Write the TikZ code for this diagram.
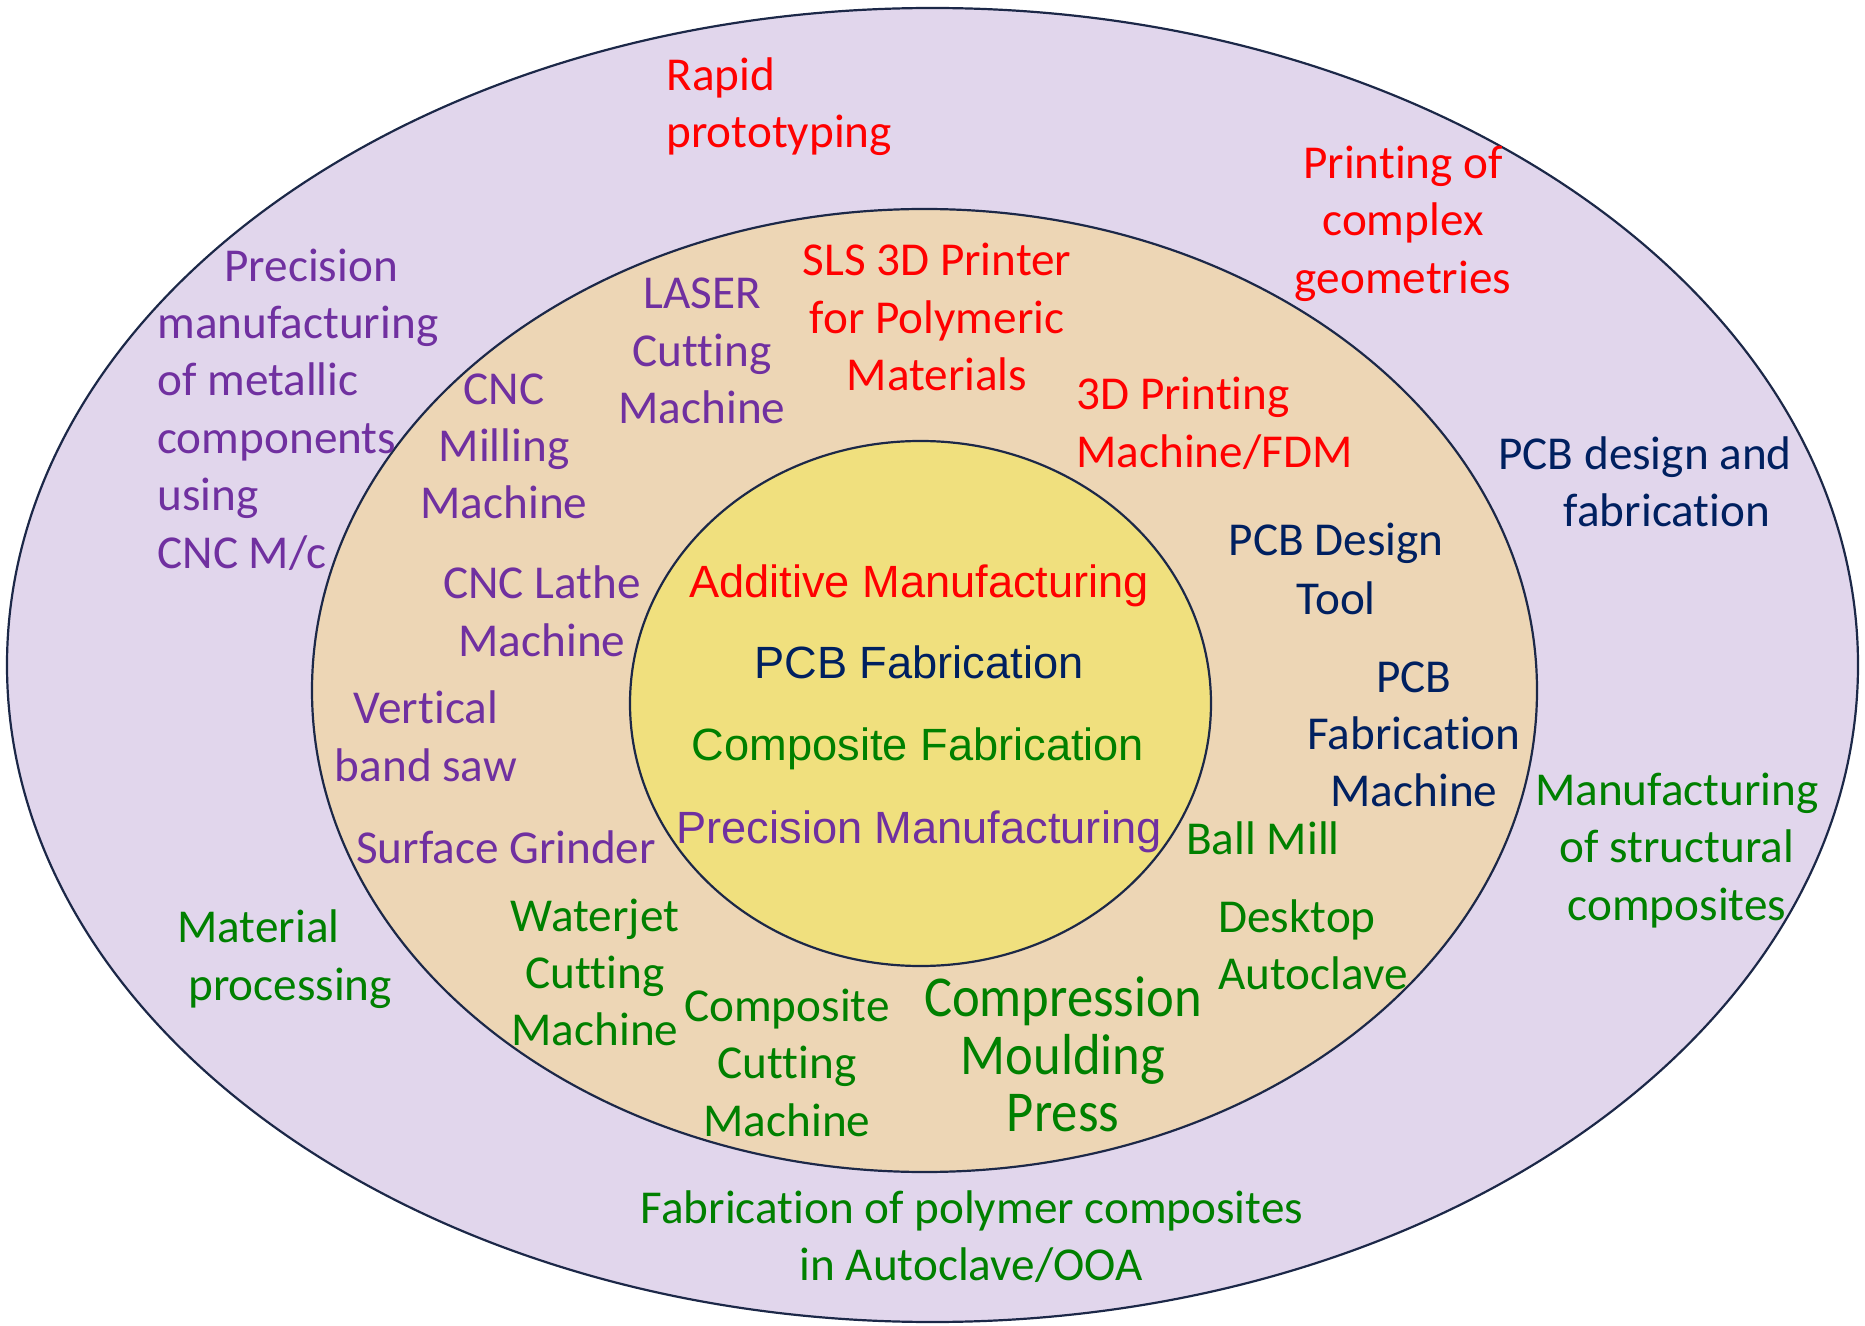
\documentclass[tikz,border=0pt]{standalone}
\usepackage{graphicx}
\usepackage{fontspec}
\setmainfont{Carlito}[Ligatures={NoCommon,NoContextual,NoRequired,NoRare}, Contextuals={NoAlternate}]
\newfontfamily\arialf{Liberation Sans}[Ligatures={NoCommon}]
\definecolor{cred}{RGB}{255,0,0}
\definecolor{cnavy}{RGB}{0,32,96}
\definecolor{cgreen}{RGB}{0,128,0}
\definecolor{cpurple}{RGB}{112,48,160}
\definecolor{lav}{RGB}{225,214,236}
\definecolor{tan}{RGB}{237,214,181}
\definecolor{yel}{RGB}{240,224,126}
\definecolor{rim}{RGB}{28,40,72}
\newcommand{\tall}[1]{\scalebox{1}[1.1]{#1}}
\tikzset{
  ring/.style={draw=rim, line width=1.1pt},
  lab/.style={font=\fontsize{23.6}{28}\selectfont, inner sep=0pt, anchor=base},
  labw/.style={lab, anchor=base west},
  big/.style={lab, font=\fontsize{26.3}{31}\selectfont},
  core/.style={inner sep=0pt, anchor=base, font=\arialf\fontsize{22.6}{27}\selectfont},
}
\begin{document}
\begin{tikzpicture}[x=0.5pt,y=-0.5pt]
\useasboundingbox (0,0) rectangle (1865,1326);
% rings
\draw[ring, fill=lav] (932.5,665) ellipse [x radius=462.75pt, y radius=328.5pt];
\draw[ring, fill=tan] (924.5,690.5) ellipse [x radius=306.25pt, y radius=240.75pt];
\draw[ring, fill=yel] (920.5,703.5) ellipse [x radius=145.25pt, y radius=131.25pt];

% core
\node[core, text=cred] (am) at (919,598) {Additive Manufacturing};
\node[core, text=cnavy] (pf) at (919,678) {PCB Fabrication};
\node[core, text=cgreen] (cf) at (918,761) {Composite Fabrication};
\node[core, text=cpurple] (pm) at (919,843) {Precision Manufacturing};

% outer ring
\node[labw, text=cred] (rp1) at (666,91) {Rapid};
\node[labw, text=cred] (rp2) at (666,148) {prototyping};
\node[lab, text=cred] (pc1) at (1403,179) {Printing of};
\node[lab, text=cred] (pc2) at (1403,236) {complex};
\node[lab, text=cred] (pc3) at (1403,294) {geometries};
\node[labw, text=cpurple] (pr1) at (224,282) {Precision};
\node[labw, text=cpurple] (pr2) at (157,339) {manufacturing};
\node[labw, text=cpurple] (pr3) at (157,396) {of metallic};
\node[labw, text=cpurple] (pr4) at (157,454) {components};
\node[labw, text=cpurple] (pr5) at (157,511) {using};
\node[labw, text=cpurple] (pr6) at (157,569) {CNC M/c};
\node[lab, text=cnavy] (pd1) at (1645,470) {PCB design and};
\node[lab, text=cnavy] (pd2) at (1667,527) {fabrication};
\node[lab, text=cgreen] (ms1) at (1677,805) {Manufacturing};
\node[lab, text=cgreen] (ms2) at (1677,862) {of structural};
\node[lab, text=cgreen] (ms3) at (1677,920) {composites};
\node[labw, text=cgreen] (mp1) at (177,942) {Material};
\node[labw, text=cgreen] (mp2) at (188,1000) {processing};
\node[lab, text=cgreen] (fp1) at (972,1223) {Fabrication of polymer composites};
\node[lab, text=cgreen] (fp2) at (971,1280) {in Autoclave/OOA};

% middle ring
\node[lab, text=cpurple] (ls1) at (702,309) {LASER};
\node[lab, text=cpurple] (ls2) at (702,367) {Cutting};
\node[lab, text=cpurple] (ls3) at (702,424) {Machine};
\node[lab, text=cred] (sl1) at (937,276) {SLS 3D Printer};
\node[lab, text=cred] (sl2) at (937,334) {for Polymeric};
\node[lab, text=cred] (sl3) at (937,391) {Materials};
\node[labw, text=cred] (fd1) at (1076,410) {3D Printing};
\node[labw, text=cred] (fd2) at (1076,468) {Machine/FDM};
\node[lab, text=cpurple] (cm1) at (504,405) {CNC};
\node[lab, text=cpurple] (cm2) at (504,462) {Milling};
\node[lab, text=cpurple] (cm3) at (504,519) {Machine};
\node[lab, text=cpurple] (cl1) at (542,599) {CNC Lathe};
\node[lab, text=cpurple] (cl2) at (542,656) {Machine};
\node[lab, text=cpurple] (vb1) at (426,723) {Vertical};
\node[lab, text=cpurple] (vb2) at (426,781) {band saw};
\node[lab, text=cpurple] (sg) at (506,863) {Surface Grinder};
\node[lab, text=cgreen] (wj1) at (595,931) {Waterjet};
\node[lab, text=cgreen] (wj2) at (595,988) {Cutting};
\node[lab, text=cgreen] (wj3) at (595,1045) {Machine};
\node[lab, text=cgreen] (cc1) at (787,1021) {Composite};
\node[lab, text=cgreen] (cc2) at (787,1078) {Cutting};
\node[lab, text=cgreen] (cc3) at (787,1136) {Machine};
\node[big, text=cgreen] (cp1) at (1063,1016) {\tall{Compression}};
\node[big, text=cgreen] (cp2) at (1063,1074) {\tall{Moulding}};
\node[big, text=cgreen] (cp3) at (1063,1131) {\tall{Press}};
\node[labw, text=cgreen] (da1) at (1218,932) {Desktop};
\node[labw, text=cgreen] (da2) at (1218,989) {Autoclave};
\node[lab, text=cgreen] (bm) at (1263,854) {Ball Mill};
\node[lab, text=cnavy] (dt1) at (1336,556) {PCB Design};
\node[lab, text=cnavy] (dt2) at (1336,615) {Tool};
\node[lab, text=cnavy] (fm1) at (1414,692) {PCB};
\node[lab, text=cnavy] (fm2) at (1414,749) {Fabrication};
\node[lab, text=cnavy] (fm3) at (1414,806) {Machine};
\end{tikzpicture}
\end{document}
